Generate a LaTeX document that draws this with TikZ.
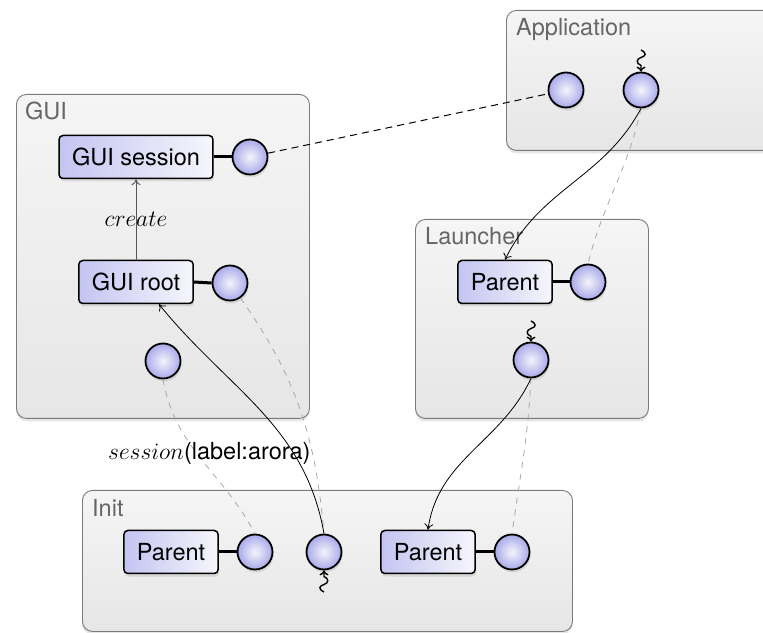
\RequirePackage{fix-cm}
\documentclass[tikz,border=0pt]{standalone}
\usepackage{fontspec}
\setmainfont{TeX Gyre Heros}
\usetikzlibrary{shadows,calc,arrows.meta}
\definecolor{framegray}{HTML}{7A7A7A}
\definecolor{frametop}{HTML}{F5F5F5}
\definecolor{framebot}{HTML}{E6E6E6}
\definecolor{labelgray}{HTML}{666666}
\definecolor{compleft}{HTML}{C4C4F2}
\definecolor{compright}{HTML}{F6F6FC}
\definecolor{portin}{HTML}{F4F4FB}
\definecolor{portout}{HTML}{A9A9EA}
\definecolor{dashgray}{HTML}{A8A8A8}
\definecolor{creategray}{HTML}{555555}
\begin{document}
\begin{tikzpicture}[x=1pt,y=1pt,
  font=\fontsize{23.5}{28}\selectfont,
  frame/.style={draw=framegray, line width=0.9pt, rounded corners=10pt,
    top color=frametop, bottom color=framebot, anchor=north west, inner sep=0pt,
    drop shadow={shadow xshift=0pt, shadow yshift=-3pt, opacity=0.2}},
  framelabel/.style={text=labelgray, anchor=base west, inner sep=0pt},
  comp/.style={draw, line width=1.5pt, rounded corners=4pt,
    left color=compleft, right color=compright, minimum height=43pt,
    inner xsep=13pt, inner ysep=0pt,
    drop shadow={shadow xshift=1pt, shadow yshift=-3pt, opacity=0.2}},
  port/.style={circle, draw, line width=1.8pt, minimum size=35pt, inner sep=0pt,
    inner color=portin, outer color=portout,
    drop shadow={shadow xshift=1pt, shadow yshift=-3pt, opacity=0.2}},
  conn/.style={line width=3pt},
  tip/.style={-{To[length=6pt,width=9pt]}},
  flow/.style={tip, line width=0.8pt, black},
  ghost/.style={line width=0.8pt, dashgray, dash pattern=on 6pt off 6pt},
  blackdash/.style={line width=1pt, black, dash pattern=on 7pt off 5pt},
  sig/.style={-{To[length=5pt,width=9pt]}, line width=1.4pt, black},
  createarrow/.style={tip, line width=0.9pt, creategray}]
\useasboundingbox (0,0) rectangle (763,632);

% frames
\node[frame, minimum width=269pt, minimum height=140pt] (app) at (506,622) {};
\node[framelabel] (applbl) at (516,596) {Application};
\node[frame, minimum width=293pt, minimum height=324pt] (gui) at (16,538) {};
\node[framelabel] (guilbl) at (25,512) {GUI};
\node[frame, minimum width=233pt, minimum height=199pt] (lau) at (415,413) {};
\node[framelabel] (laulbl) at (425,387) {Launcher};
\node[frame, minimum width=490pt, minimum height=141pt] (init) at (82,142) {};
\node[framelabel] (initlbl) at (92,115) {Init};

% components and ports
\node[comp] (gs) at (136,475) {GUI session};
\node[port] (gsc) at (250,475) {};
\node[comp] (gr) at (136,350) {GUI root};
\node[port] (grc) at (230,349) {};
\node[port] (gl) at (163,271) {};

\node[comp] (lp) at (505,350) {Parent};
\node[port] (lpc) at (588,350) {};
\node[port] (ll) at (531,272) {};

\node[comp] (ip1) at (171,80) {Parent};
\node[port] (ic1) at (255,80) {};
\node[port] (im) at (324,80) {};
\node[comp] (ip2) at (428,80) {Parent};
\node[port] (ic2) at (512,80) {};

\node[port] (app1) at (566,542) {};
\node[port] (app2) at (641,542) {};

% links component - port
\draw[conn] (gs.east) -- (gsc.west);
\draw[conn] (gr.east) -- (grc.west);
\draw[conn] (lp.east) -- (lpc.west);
\draw[conn] (ip1.east) -- (ic1.west);
\draw[conn] (ip2.east) -- (ic2.west);

% create
\draw[createarrow] (gr.north) -- node[midway, inner sep=0pt, text=black] (createlbl) {$create$} (gs.south);

% signals (squiggles)
\coordinate (s1) at (641,582);
\coordinate (s2) at (531,311);
\coordinate (s3) at (324,40);
\draw[sig] (s1) .. controls (647,579) and (646,576) .. (641,574.5)
  .. controls (636,573) and (636,568.5) .. (641,566.5) -- (app2.north);
\draw[sig] (s2) .. controls (537,308) and (536,305) .. (531,303.5)
  .. controls (526,302) and (526,297.5) .. (531,295.5) -- (ll.north);
\draw[sig] (s3) .. controls (318,43) and (319,46) .. (324,47.5)
  .. controls (329,49) and (329,53.5) .. (324,55.5) -- (im.south);

% sessions
\draw[blackdash] (gsc) -- (app1);
\draw[ghost] (app2.south) to[out=-102,in=76] (lpc.north);
\draw[flow] (app2.south) to[out=-118,in=64] (lp.north);
\draw[ghost] (ll.south) to[out=-93,in=82] (ic2.north);
\draw[flow] (ll.south) to[out=-115,in=82] (ip2.north);
\draw[ghost] (grc) to[out=-55,in=95] (im.north);
\draw[flow] (im.north) to[out=100,in=-51] ([xshift=23pt]gr.south);
\draw[ghost] (gl.south) to[out=-80,in=118] (ic1.north);

\node[anchor=base west, inner sep=0pt] (sesslbl) at (108,172) {$session$(label:arora)};
\end{tikzpicture}
\end{document}
